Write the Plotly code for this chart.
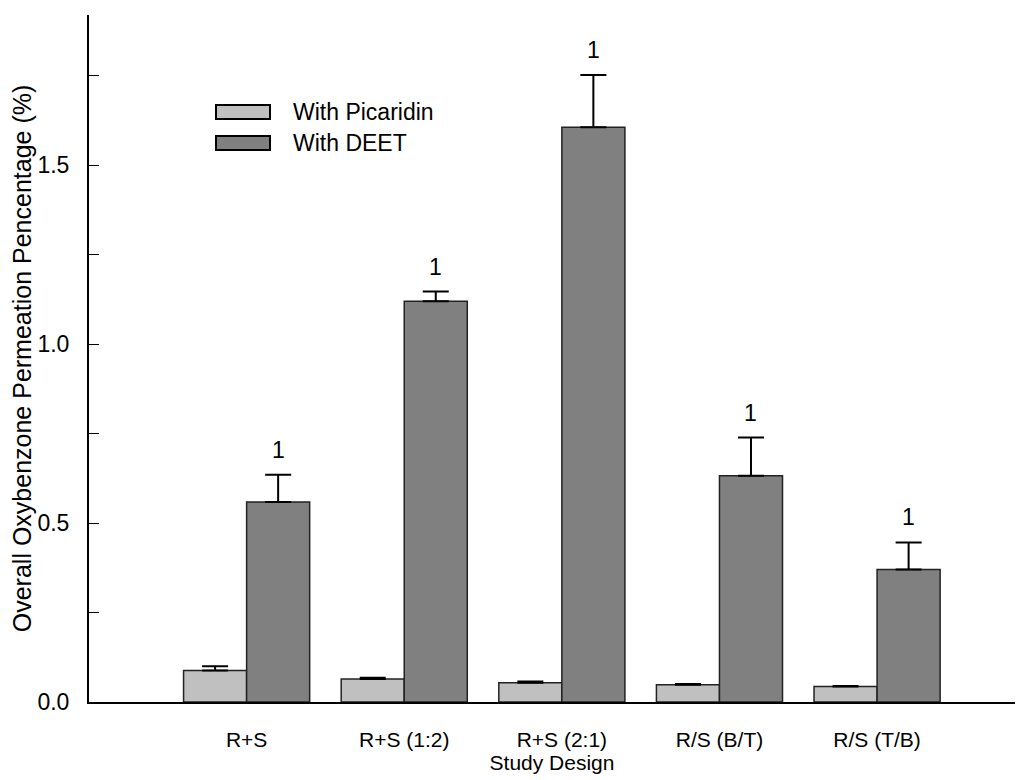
import plotly.graph_objects as go

categories = ["R+S", "R+S (1:2)", "R+S (2:1)", "R/S (B/T)", "R/S (T/B)"]
picaridin = [0.088, 0.064, 0.054, 0.048, 0.043]
picaridin_err = [0.012, 0.004, 0.003, 0.002, 0.002]
deet = [0.559, 1.12, 1.606, 0.632, 0.370]
deet_err = [0.076, 0.027, 0.146, 0.107, 0.076]
sig_labels = ["1", "1", "1", "1", "1"]
y_ticks = [0, 0.25, 0.5, 0.75, 1.0, 1.25, 1.5, 1.75]
y_ticktext = ["0.0", "", "0.5", "", "1.0", "", "1.5", ""]

xpos = list(range(1, len(categories) + 1))

FONT = "Liberation Sans, Arial, sans-serif"
FS = 23
FX = 21

fig = go.Figure()
fig.add_trace(go.Bar(
    x=xpos, y=picaridin, name="With Picaridin",
    marker=dict(color="#c0c0c0", line=dict(color="#222222", width=1.5)),
    error_y=dict(type="data", array=picaridin_err, arrayminus=[0] * 5,
                 symmetric=False, color="black", thickness=2, width=13),
))
fig.add_trace(go.Bar(
    x=xpos, y=deet, name="With DEET",
    marker=dict(color="#808080", line=dict(color="#222222", width=1.5)),
    error_y=dict(type="data", array=deet_err, arrayminus=[0] * 5,
                 symmetric=False, color="black", thickness=2, width=13),
))

for xi, v, e, t in zip(xpos, deet, deet_err, sig_labels):
    fig.add_annotation(x=xi + 0.2, y=v + e, text=t, showarrow=False,
                       yanchor="bottom", yshift=10,
                       font=dict(family=FONT, size=FS, color="black"))

# legend drawn manually (wide rectangle swatches); positions in screen px
leg = [("With Picaridin", "#c0c0c0", 112), ("With DEET", "#808080", 143)]
for label, col, ypx in leg:
    yp = 1 - (ypx - 15) / 687
    fig.add_shape(type="rect", xref="paper", yref="paper",
                  x0=(216 - 89) / 926, x1=(270 - 89) / 926,
                  y0=yp - 7 / 687, y1=yp + 7 / 687,
                  fillcolor=col, line=dict(color="black", width=2))
    fig.add_annotation(xref="paper", yref="paper", x=(291 - 89) / 926, y=yp,
                       text=label, showarrow=False, xanchor="left", yanchor="middle",
                       font=dict(family=FONT, size=FS, color="black"))

# page body has an 8px margin -> plot area on screen: x 89..1015, y 15..702
fig.update_layout(
    width=1026, height=780,
    margin=dict(l=81, r=19, t=7, b=86),
    paper_bgcolor="white", plot_bgcolor="white",
    barmode="group", bargap=0.2, bargroupgap=0,
    showlegend=False,
    font=dict(family=FONT, size=FS, color="black"),
)
fig.update_xaxes(
    range=[0, 5.875], tickvals=xpos, ticktext=categories,
    showline=True, linecolor="black", linewidth=2,
    showgrid=False, zeroline=False, ticks="", automargin=False,
    ticklabelstandoff=18,
    tickfont=dict(family=FONT, size=FX),
    title=dict(text="Study Design", font=dict(family=FONT, size=FX), standoff=2),
)
fig.update_yaxes(
    range=[0, 1.92], tickvals=y_ticks, ticktext=y_ticktext,
    showline=True, linecolor="black", linewidth=2,
    showgrid=False, zeroline=False, automargin=False,
    ticks="inside", ticklen=10, tickwidth=1, tickcolor="black",
    ticklabelstandoff=13,
    tickfont=dict(family=FONT, size=FS),
    title=dict(text="Overall Oxybenzone Permeation Pencentage (%)",
               font=dict(family=FONT, size=25), standoff=8),
)

fig.write_html("out.html")
